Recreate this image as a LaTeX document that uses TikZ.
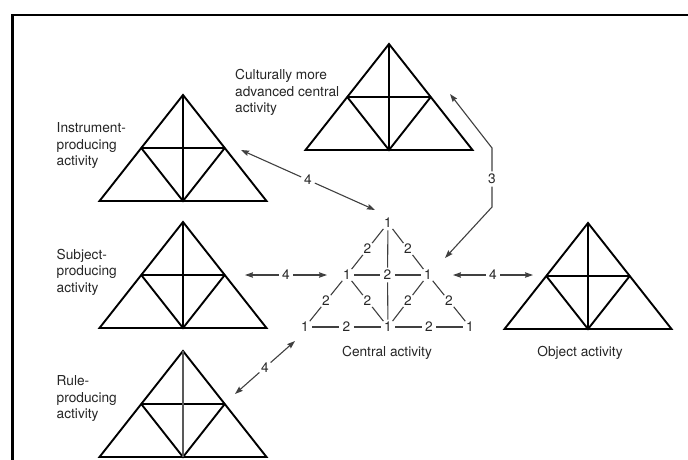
\documentclass[tikz,border=0pt]{standalone}
\usepackage{fontspec}
\setmainfont{TeX Gyre Heros}
\usetikzlibrary{arrows.meta,calc}

\tikzset{
  tri/.style={line width=1.9pt, black, line join=miter},
  trivert/.style={tri},
  thinln/.style={line width=1.1pt, black!75},
  arr/.style={thinln, -{Stealth[length=8pt,width=5.5pt,inset=1pt]}},
  num/.style={circle, inner sep=0.8pt, text=black!85, font=\fontsize{13.7}{16.5}\selectfont},
  caption/.style={inner sep=0pt, align=left, text=black!85, font=\fontsize{13.7}{16.5}\selectfont},
  acttri/.pic={
    \draw[tri] (0,0) -- (-83.5,106) -- (83.5,106) -- cycle;
    \draw[tri] (-41.75,53) -- (41.75,53);
    \draw[tri] (-41.75,53) -- (0,106) -- (41.75,53);
    \draw[trivert] (0,0) -- (0,106);
  }
}

\begin{document}
\begin{tikzpicture}[x=1pt,y=-1pt]
\path[use as bounding box] (0,0) rectangle (688,459);
\clip (0,0) rectangle (688,459);

% frame (left and top edges)
\draw[line width=2.2pt, black] (12.5,480) -- (12.5,14.7) -- (710,14.7);

% activity triangles
\pic at (389,44) {acttri};
\pic at (183,95) {acttri};
\pic at (183,222) {acttri};
\pic[trivert/.style={line width=1.2pt, black!65}] at (183,351) {acttri};
\pic at (588,223) {acttri};

% captions (anchor = baseline of the last line)
\node[caption, anchor=base west] (cult) at (235,112.5) {Culturally more\\advanced central\\activity};
\node[caption, anchor=base west] (instr) at (56.5,165.5) {Instrument-\\producing\\activity};
\node[caption, anchor=base west] (subj) at (56.5,292) {Subject-\\producing\\activity};
\node[caption, anchor=base west] (rule) at (56.5,418.5) {Rule-\\producing\\activity};
\node[caption, anchor=base] (centcap) at (387,356) {Central activity};
\node[caption, anchor=base] (objcap) at (580,356.5) {Object activity};

% central activity graph
\node[num] (t)  at (388,223) {1};
\node[num] (ml) at (347,275) {1};
\node[num] (mc) at (387.5,275) {2};
\node[num] (mr) at (428,275) {1};
\node[num] (bl) at (305,327) {1};
\node[num] (bm) at (388,327) {1};
\node[num] (br) at (470,327) {1};
\node[num] (e1) at ($(t)!.5!(ml)$) {2};
\node[num] (e2) at ($(t)!.5!(mr)$) {2};
\node[num] (e3) at ($(ml)!.5!(bl)$) {2};
\node[num] (e4) at ($(ml)!.5!(bm)$) {2};
\node[num] (e5) at ($(mr)!.5!(bm)$) {2};
\node[num] (e6) at ($(mr)!.5!(br)$) {2};
\node[num] (e7) at ($(bl)!.5!(bm)$) {2};
\node[num] (e8) at ($(bm)!.5!(br)$) {2};

\draw[thinln] (t) -- (e1) -- (ml);
\draw[thinln] (t) -- (e2) -- (mr);
\draw[thinln] (ml) -- (e3) -- (bl);
\draw[thinln] (ml) -- (e4) -- (bm);
\draw[thinln] (mr) -- (e5) -- (bm);
\draw[thinln] (mr) -- (e6) -- (br);
\draw[thinln] (bl) -- (e7) -- (bm);
\draw[thinln] (bm) -- (e8) -- (br);
\draw[thinln] (ml) -- (mc) -- (mr);
\draw[thinln] (t) -- (mc) -- (bm);

% arrows labelled 4
\coordinate (iA) at (241,150);
\coordinate (iB) at (375,210);
\node[num] (i4) at ($(iA)!.5!(iB)$) {4};
\draw[arr] (i4) -- (iA);
\draw[arr] (i4) -- (iB);

\coordinate (sA) at (245,275);
\coordinate (sB) at (327,275);
\node[num] (s4) at ($(sA)!.5!(sB)$) {4};
\draw[arr] (s4) -- (sA);
\draw[arr] (s4) -- (sB);

\coordinate (oA) at (453,275);
\coordinate (oB) at (533,275);
\node[num] (o4) at ($(oA)!.5!(oB)$) {4};
\draw[arr] (o4) -- (oA);
\draw[arr] (o4) -- (oB);

\coordinate (rA) at (235,394);
\coordinate (rB) at (295,341);
\node[num] (r4) at ($(rA)!.5!(rB)$) {4};
\draw[arr] (r4) -- (rA);
\draw[arr] (r4) -- (rB);

% arrow labelled 3
\coordinate (cA) at (450,94);
\coordinate (c1) at (492,148);
\coordinate (c2) at (492,207);
\coordinate (cB) at (445,258);
\node[num] (c3) at (492,179) {3};
\draw[arr] (c3) -- (c1) -- (cA);
\draw[arr] (c3) -- (c2) -- (cB);
\end{tikzpicture}
\end{document}
